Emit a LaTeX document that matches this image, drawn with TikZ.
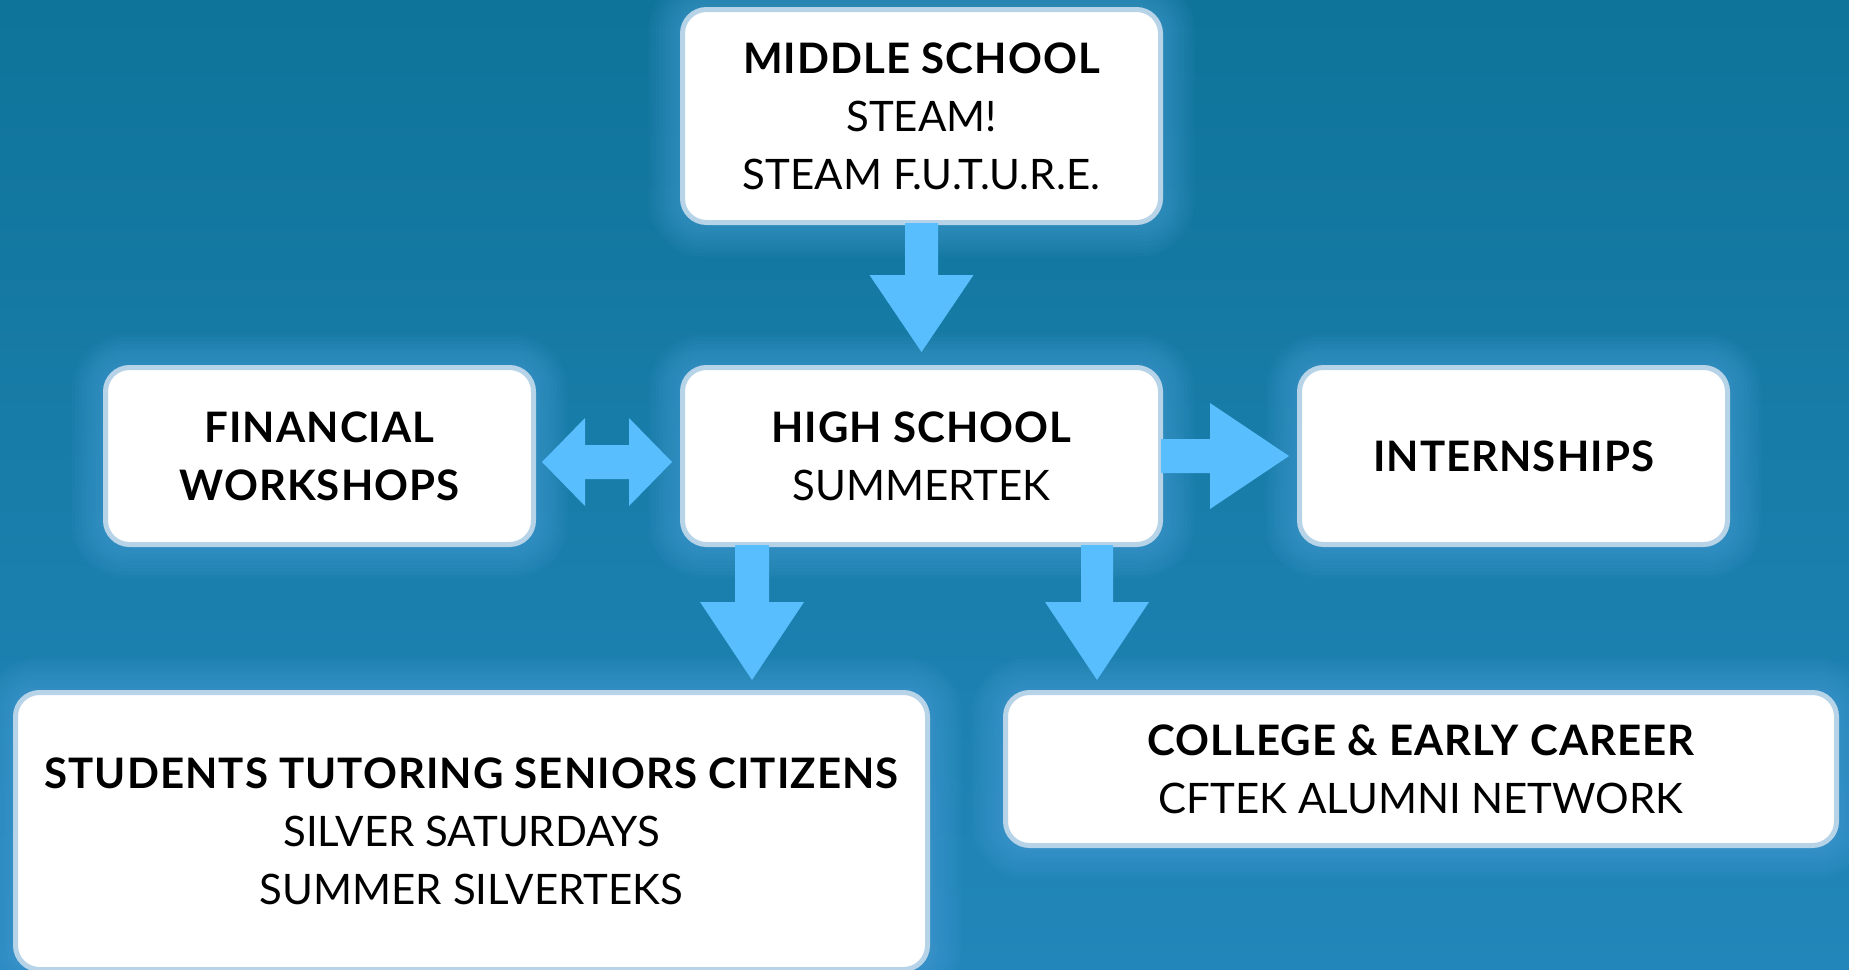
\documentclass[tikz,border=0pt]{standalone}
\usepackage{fontspec}
\setmainfont{Lato}
\usetikzlibrary{calc,backgrounds}
\definecolor{bgtop}{HTML}{0F7499}
\definecolor{bgbot}{HTML}{2286BA}
\definecolor{glowc}{HTML}{55A8E2}
\definecolor{edgec}{HTML}{B7D3E8}
\definecolor{arrowc}{HTML}{58BEFE}
\newcommand{\hd}[1]{{\bfseries\addfontfeature{LetterSpace=2.5}#1}}
\begin{document}
\begin{tikzpicture}[x=1pt,y=-1pt,
  box/.style={draw=edgec, line width=5pt, fill=white, rounded corners=24pt, align=center,
    font=\fontsize{42}{58}\selectfont, text=black, inner sep=0pt},
  blockarrow/.style={fill=arrowc, draw=none},
  glow/.style={fill=glowc, opacity=0.06}]
\useasboundingbox (0,0) rectangle (1849,969);

\node[box, minimum width=478pt, minimum height=213pt] (ms) at (921.5,116)
  {\hd{MIDDLE SCHOOL}\\STEAM!\\STEAM F.U.T.U.R.E.};
\node[box, minimum width=428pt, minimum height=177pt] (fw) at (319.5,456)
  {\hd{FINANCIAL}\\\hd{WORKSHOPS}};
\node[box, minimum width=478pt, minimum height=177pt] (hs) at (921.5,456)
  {\hd{HIGH SCHOOL}\\SUMMERTEK};
\node[box, minimum width=428pt, minimum height=177pt] (intern) at (1513.5,456)
  {\hd{INTERNSHIPS}};
\node[box, minimum width=912pt, minimum height=277pt] (st) at (471.5,831)
  {\hd{STUDENTS TUTORING SENIORS CITIZENS}\\SILVER SATURDAYS\\SUMMER SILVERTEKS};
\node[box, minimum width=831pt, minimum height=153pt] (ce) at (1421,769)
  {\hd{COLLEGE \& EARLY CAREER}\\CFTEK ALUMNI NETWORK};

\begin{pgfonlayer}{background}
  \shade[top color=bgtop, bottom color=bgbot] (0,0) rectangle (1849,969);
  \foreach \n in {ms,fw,hs,intern,st,ce}{
    \foreach \k in {1,...,9}{
      \pgfmathsetmacro\rr{24+3.5*\k}
      \fill[glow, rounded corners=\rr pt] ($(\n.south west)+(-3.5*\k,3.5*\k)$) rectangle ($(\n.north east)+(3.5*\k,-3.5*\k)$);
    }
  }
\end{pgfonlayer}

% middle school -> high school
\fill[blockarrow] ($(ms.south)+(-16.5,-2)$) -- ($(ms.south)+(16.5,-2)$) -- ($(ms.south)+(16.5,50)$)
  -- ($(ms.south)+(52,50)$) -- ($(hs.north)+(0,-13)$) -- ($(ms.south)+(-52,50)$)
  -- ($(ms.south)+(-16.5,50)$) -- cycle;

% financial workshops <-> high school
\fill[blockarrow] ($(fw.east)+(6,6)$) -- ($(fw.east)+(49,-38)$) -- ($(fw.east)+(49,-11)$)
  -- ($(hs.west)+(-51,-11)$) -- ($(hs.west)+(-51,-38)$) -- ($(hs.west)+(-8,6)$)
  -- ($(hs.west)+(-51,50)$) -- ($(hs.west)+(-51,23)$) -- ($(fw.east)+(49,23)$)
  -- ($(fw.east)+(49,50)$) -- cycle;

% high school -> internships
\fill[blockarrow] ($(hs.east)+(-2,-17)$) -- ($(hs.east)+(47,-17)$) -- ($(hs.east)+(47,-53)$)
  -- ($(intern.west)+(-8,0)$) -- ($(hs.east)+(47,53)$) -- ($(hs.east)+(47,17)$)
  -- ($(hs.east)+(-2,17)$) -- cycle;

% high school -> students tutoring
\coordinate (a1) at ($(hs.south west)+(72,0)$);
\fill[blockarrow] ($(a1)+(-17,-2)$) -- ($(a1)+(17,-2)$) -- ($(a1)+(17,55)$) -- ($(a1)+(52,55)$)
  -- ($(a1 |- st.north)+(0,-10)$) -- ($(a1)+(-52,55)$) -- ($(a1)+(-17,55)$) -- cycle;

% high school -> college
\coordinate (a2) at ($(hs.south east)+(-66,0)$);
\fill[blockarrow] ($(a2)+(-16,-2)$) -- ($(a2)+(16,-2)$) -- ($(a2)+(16,55)$) -- ($(a2)+(52,55)$)
  -- ($(a2 |- ce.north)+(0,-10)$) -- ($(a2)+(-52,55)$) -- ($(a2)+(-16,55)$) -- cycle;
\end{tikzpicture}
\end{document}
